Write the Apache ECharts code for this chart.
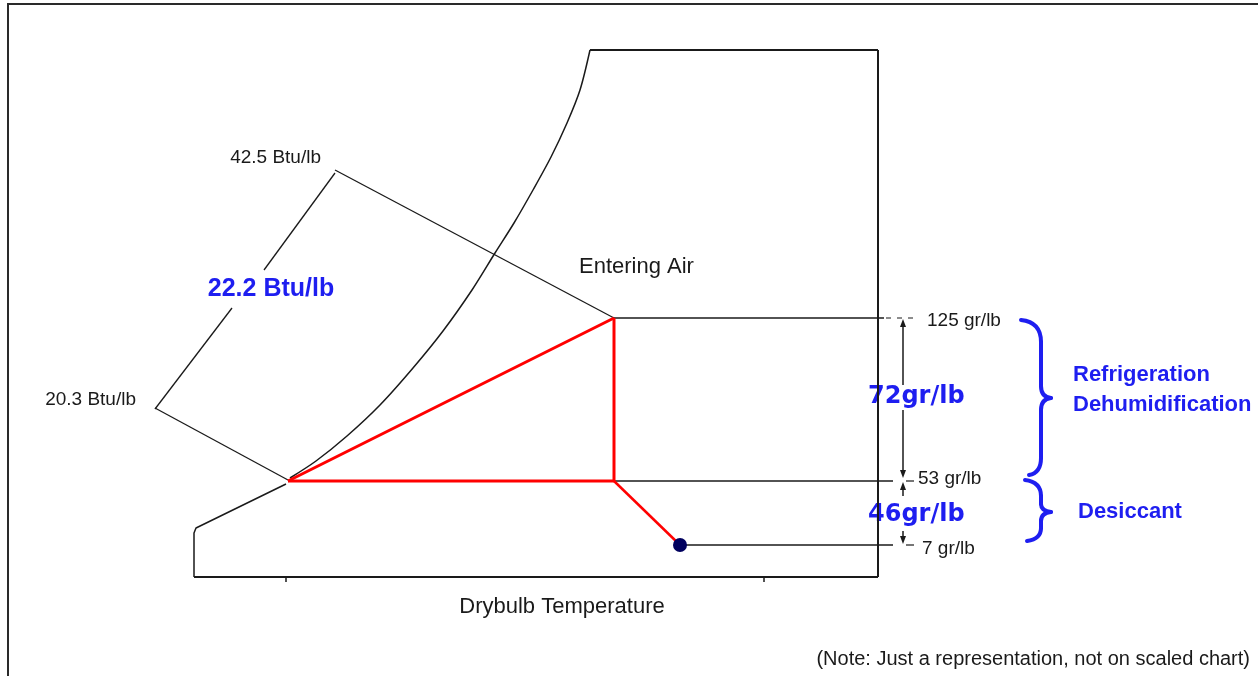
<!DOCTYPE html>
<html>
<head>
<meta charset="utf-8">
<script src="https://cdn.jsdelivr.net/npm/echarts@6/dist/echarts.min.js"></script>
<style>
html, body { margin: 0; padding: 0; background: #fff; }
#chart { width: 1258px; height: 676px; }
</style>
</head>
<body>
<div id="chart"></div>
<script>
// schematic sheet: 1 unit = 1 px, y axis runs downward (not a scaled psychrometric chart)
const saturationCurve = [[590, 50], [580, 90], [567, 123], [551, 157], [533, 190], [514, 223], [495, 253], [472, 290], [443, 331], [413, 368], [380, 405], [347, 436], [316, 461], [290, 478]];
const saturationLower = [[286, 484], [196, 528], [194, 533], [194, 577]];
const chartTop = [[590, 50], [878, 50]];
const chartRight = [[878, 50], [878, 577]];
const drybulbAxis = [[194, 577], [878, 577]];
const axisTicks = [[[286, 577], [286, 582]], [[764, 577], [764, 582]]];

const enthalpyHigh = [[335, 170], [614, 318]];   // 42.5 Btu/lb
const enthalpyLow = [[155, 408], [288, 480]];    // 20.3 Btu/lb
const enthalpyDimUpper = [[335, 173], [264, 270]];
const enthalpyDimLower = [[232, 308], [155, 409]];

const coolingPath = [[288, 481], [614, 318]];
const enteringDrop = [[614, 318], [614, 481]];
const reheatPath = [[288, 481], [614, 481]];
const desiccantPath = [[614, 481], [680, 545]];
const leavingPoint = [[680, 545]];

const grains125 = [[614, 318], [884, 318]];
const grains53 = [[614, 481], [893, 481]];
const grains7 = [[680, 545], [893, 545]];
const tickDashes = [[[886, 318], [918, 318]], [[906, 481], [914, 481]], [[906, 545], [914, 545]]];

const dim72Upper = [[903, 385], [903, 323]];
const dim72Lower = [[903, 410], [903, 474]];
const dim46Upper = [[903, 496], [903, 486]];
const dim46Lower = [[903, 531], [903, 540]];

// brace outlines: [start, control, end] for curved parts, [start, end] for straight parts
const braceRefrig = [
    [[1021, 320], [1041, 322], [1041, 342]],
    [[1041, 342], [1041, 386]],
    [[1041, 386], [1041, 397], [1051, 398]],
    [[1051, 398], [1041, 399], [1041, 410]],
    [[1041, 410], [1041, 458]],
    [[1041, 458], [1041, 473], [1029, 475]]
];
const braceDesiccant = [
    [[1025, 480], [1041, 482], [1041, 496]],
    [[1041, 496], [1041, 504]],
    [[1041, 504], [1041, 511], [1051, 512]],
    [[1051, 512], [1041, 513], [1041, 521]],
    [[1041, 521], [1041, 528]],
    [[1041, 528], [1041, 539], [1027, 541]]
];

const black = '#1a1a1a';
const red = '#ff0000';
const blue = '#1e1ef0';

function seg(pts, color, width, extra) {
    return Object.assign({
        type: 'line',
        data: pts,
        symbol: 'none',
        silent: true,
        animation: false,
        lineStyle: { color: color, width: width }
    }, extra || {});
}

function arrow(pts) {
    // arrowhead on the last point, pointing along the segment
    const up = pts[1][1] < pts[0][1];
    return seg([
        { value: pts[0], symbol: 'none' },
        { value: pts[1], symbol: 'triangle', symbolSize: [6, 8], symbolRotate: up ? 0 : 180 }
    ], black, 1.5, { showAllSymbol: true, itemStyle: { color: black } });
}

const series = [
    seg(saturationCurve, black, 1.5, { smooth: 0.3 }),
    seg(saturationLower, black, 1.5),
    seg(chartTop, black, 2),
    seg(chartRight, black, 2),
    seg(drybulbAxis, black, 2),
    seg(axisTicks[0], black, 1.5),
    seg(axisTicks[1], black, 1.5),
    seg(enthalpyHigh, black, 1.3),
    seg(enthalpyLow, black, 1.3),
    seg(enthalpyDimUpper, black, 1.3),
    seg(enthalpyDimLower, black, 1.3),
    seg(grains125, black, 1.5),
    seg(grains53, black, 1.5),
    seg(grains7, black, 1.5),
    seg(tickDashes[0], black, 1.2, { lineStyle: { color: black, width: 1.2, type: [5, 6] } }),
    seg(tickDashes[1], black, 1.2),
    seg(tickDashes[2], black, 1.2),
    arrow(dim72Upper),
    arrow(dim72Lower),
    arrow(dim46Upper),
    arrow(dim46Lower),
    seg(coolingPath, red, 3),
    seg(enteringDrop, red, 3),
    seg(reheatPath, red, 3),
    seg(desiccantPath, red, 2.5),
    {
        type: 'scatter',
        data: leavingPoint,
        symbolSize: 14,
        silent: true,
        animation: false,
        z: 5,
        itemStyle: { color: '#00005e', opacity: 1 }
    }
];

function txt(x, y, s, size, color, opts) {
    opts = opts || {};
    return {
        type: 'text',
        x: x,
        y: y,
        silent: true,
        style: {
            text: s,
            font: (opts.bold ? 'bold ' : '') + size + 'px ' + (opts.family || '"Liberation Sans", Arial, sans-serif'),
            fill: color,
            textAlign: opts.align || 'left',
            align: opts.align || 'left',
            textVerticalAlign: 'middle',
            verticalAlign: 'middle'
        }
    };
}

function bracePieces(parts) {
    return parts.map(function (p) {
        const st = { fill: 'none', stroke: blue, lineWidth: 4, lineCap: 'round' };
        if (p.length === 3) {
            return { type: 'bezierCurve', silent: true, style: st,
                shape: { x1: p[0][0], y1: p[0][1], cpx1: p[1][0], cpy1: p[1][1], x2: p[2][0], y2: p[2][1] } };
        }
        return { type: 'line', silent: true, style: st,
            shape: { x1: p[0][0], y1: p[0][1], x2: p[1][0], y2: p[1][1] } };
    });
}

const graphics = [
    { type: 'rect', silent: true, shape: { x: 8, y: 4, width: 1270, height: 700 },
      style: { fill: 'none', stroke: '#2a2a2a', lineWidth: 2 } },
    txt(321, 158, '42.5 Btu/lb', 19, black, { align: 'right' }),
    txt(136, 400, '20.3 Btu/lb', 19, black, { align: 'right' }),
    txt(271, 289, '22.2 Btu/lb', 25, blue, { bold: true, align: 'center' }),
    txt(579, 267, 'Entering Air', 22, black),
    txt(927, 321, '125 gr/lb', 19, black),
    txt(918, 479, '53 gr/lb', 19, black),
    txt(922, 549, '7 gr/lb', 19, black),
    txt(868, 397, '72gr/lb', 24, blue, { bold: true, family: '"DejaVu Sans", sans-serif' }),
    txt(868, 515, '46gr/lb', 24, blue, { bold: true, family: '"DejaVu Sans", sans-serif' }),
    txt(1073, 375, 'Refrigeration', 22, blue, { bold: true }),
    txt(1073, 405, 'Dehumidification', 22, blue, { bold: true }),
    txt(1078, 512, 'Desiccant', 22, blue, { bold: true }),
    txt(562, 607, 'Drybulb Temperature', 22, black, { align: 'center' }),
    txt(1250, 659, '(Note: Just a representation, not on scaled chart)', 20, black, { align: 'right' })
].concat(bracePieces(braceRefrig), bracePieces(braceDesiccant));

const myChart = echarts.init(document.getElementById('chart'), null, { renderer: 'canvas' });
const option = {
    animation: false,
    backgroundColor: '#fff',
    grid: { left: 0, right: 0, top: 0, bottom: 0 },
    xAxis: { type: 'value', min: 0, max: 1258, show: false },
    yAxis: { type: 'value', min: 0, max: 676, inverse: true, show: false },
    series: series,
    graphic: graphics
};
myChart.setOption(option);
</script>
</body>
</html>
